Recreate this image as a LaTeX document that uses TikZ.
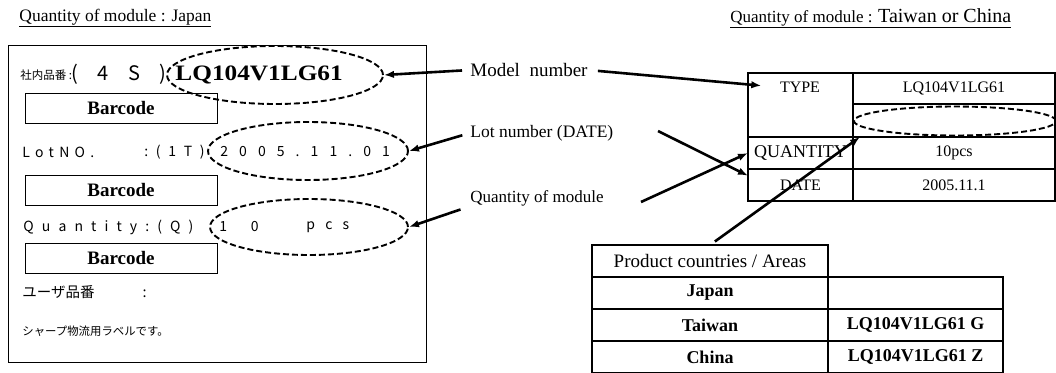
\documentclass[tikz,border=0pt]{standalone}
\usepackage{fontspec}
\setmainfont{Liberation Serif}
\newfontfamily\jpfont{Noto Sans CJK JP}
\usetikzlibrary{shapes.geometric, arrows.meta}
\newcommand{\spacedtxt}[2]{{\addfontfeature{LetterSpace=#1}#2}}
\tikzset{
every picture/.style={line width=0.8pt, >={Latex[length=10pt, width=7.5pt]}},
%%%%%%%%%%  Node styles
txt/.style={inner sep=0pt, anchor=west},
gothic/.style={txt, font=\jpfont\fontsize{14}{16}\selectfont},
bar_box/.style={draw, line width=1pt, minimum width=192pt, minimum height=30pt,
                inner sep=0pt, font=\bfseries\fontsize{19}{21}\selectfont},
dash_ring/.style={ellipse, draw, line width=1.9pt, dash pattern=on 6pt off 3pt,
                  inner sep=0pt},
%%%%%%% table cells: width, height
tbl_cell/.style 2 args={draw, line width=1.5pt, minimum width=#1, minimum height=#2,
                  inner sep=0pt, outer sep=0pt, font=\fontsize{16}{18}\selectfont},
%%%%%%% arrows
pointer/.style={->, line width=2.6pt}
}

\begin{document}
\begin{tikzpicture}[x=1pt, y=-1pt]
\useasboundingbox (0,0) rectangle (1056,372);
%%%% titles
\node[txt, font=\fontsize{17.5}{19}\selectfont] (jptitle) at (19,18) {\underline{Quantity of module : Japan}};
\node[txt] (twtitle) at (730,18) {\underline{\fontsize{17}{19}\selectfont Quantity of module : \fontsize{20}{22}\selectfont Taiwan or China}};

%%%% Japan label
\draw[line width=1pt] (8,45) rectangle (426,362);
\node[txt, font=\jpfont\fontsize{11.5}{13}\selectfont] (naibanlbl) at (20,75) {社内品番 :};
\node[txt, font=\jpfont\fontsize{20}{22}\selectfont] (fourS) at (71,74) {\spacedtxt{75}{( 4 S )}};
\node[txt, font=\bfseries\fontsize{22}{24}\selectfont, xscale=1.15] (modelno) at (175,75) {LQ104V1LG61};
\node[bar_box] (bar1) at (121,108) {Barcode};
\node[gothic] (lotlbl) at (22,152) {\spacedtxt{38}{LotNO.}};
\node[gothic] (lotcode) at (144,152) {\spacedtxt{55}{:(1T)}};
\node[gothic] (lotdate) at (220,152) {\spacedtxt{79}{2005.11.01}};
\node[bar_box] (bar2) at (121,190) {Barcode};
\node[gothic] (qtylbl) at (23,227) {\spacedtxt{58}{Quantity:(Q)}};
\node[gothic] (qtynum) at (219,227) {\spacedtxt{170}{10}};
\node[gothic] (qtyunit) at (306,227) {\spacedtxt{73}{pcs}};
\node[bar_box] (bar3) at (121,258) {Barcode};
\node[txt, font=\jpfont\fontsize{14.5}{16}\selectfont] (userlbl) at (22,292) {ユーザ品番\hspace{48pt}:};
\node[txt, font=\jpfont\fontsize{11.4}{13}\selectfont] (sharpnote) at (22,331) {シャープ物流用ラベルです。};
\node[dash_ring, minimum width=216pt, minimum height=58pt] (modelring) at (275,75) {};
\node[dash_ring, minimum width=200pt, minimum height=58pt] (lotring) at (308,151) {};
\node[dash_ring, minimum width=198pt, minimum height=56pt] (qtyring) at (309,227) {};

%%%% middle labels
\node[txt, font=\fontsize{19}{21}\selectfont] (modeltxt) at (470,70) {Model~ number};
\node[txt, font=\fontsize{17.5}{19}\selectfont] (lottxt) at (470,133) {Lot number (DATE)};
\node[txt, font=\fontsize{17}{19}\selectfont] (qtytxt) at (470,198) {Quantity of module};
\coordinate (lotfrom) at (658,131);
\coordinate (qtyfrom) at (641,202);

%%%% Taiwan / China label
\node[tbl_cell={105pt}{64pt}] (typecell) at (800.5,105) {};
\node[tbl_cell={105pt}{32pt}, font=\fontsize{18}{20}\selectfont] (qtycell) at (800.5,153) {QUANTITY};
\node[tbl_cell={105pt}{32pt}] (datecell) at (800.5,185) {DATE};
\node[tbl_cell={202pt}{31pt}] (typeval) at (954,88.5) {LQ104V1LG61};
\node[tbl_cell={202pt}{33pt}] (sfxcell) at (954,120.5) {};
\node[tbl_cell={202pt}{32pt}] (qtyval) at (954,153) {10pcs};
\node[tbl_cell={202pt}{32pt}] (dateval) at (954,185) {2005.11.1};
\node[font=\fontsize{16}{18}\selectfont] (typetxt) at (800,87) {TYPE};
\node[dash_ring, minimum width=202pt, minimum height=29pt] (sfxring) at (955,121) {};

%%%% product table
\node[tbl_cell={236pt}{32pt}, font=\fontsize{19}{21}\selectfont] (prodhdr) at (710,261) {Product countries / Areas};
\node[tbl_cell={236pt}{32pt}, font=\bfseries\fontsize{18}{20}\selectfont] (japanrow) at (710,293) {Japan};
\node[tbl_cell={236pt}{32pt}, font=\bfseries\fontsize{18}{20}\selectfont] (taiwanrow) at (710,325) {Taiwan};
\node[tbl_cell={236pt}{32pt}, font=\bfseries\fontsize{18}{20}\selectfont] (chinarow) at (710,357) {China};
\node[tbl_cell={175pt}{32pt}] (japanval) at (915.5,293) {};
\node[tbl_cell={175pt}{32pt}, font=\bfseries\fontsize{18}{20}\selectfont] (taiwanval) at (915.5,325) {LQ104V1LG61 G};
\node[tbl_cell={175pt}{32pt}, font=\bfseries\fontsize{18}{20}\selectfont] (chinaval) at (915.5,357) {LQ104V1LG61 Z};

%%%% pointers
\draw[pointer, shorten <=8pt] (modeltxt.west) -- (modelring.east);
\draw[pointer, shorten <=8pt] (lottxt.west) -- (lotring.east);
\draw[pointer, shorten <=10pt] (qtytxt.south west) -- (qtyring.east);
\draw[pointer, shorten <=10pt, shorten >=15pt] (modeltxt.east) -- (typetxt.west);
\draw[pointer] (lotfrom) -- (datecell.170);
\draw[pointer] (qtyfrom) -- (qtycell.west);
\draw[pointer, shorten <=6pt] (prodhdr.north) -- ([xshift=7pt]sfxcell.south west);
\end{tikzpicture}
\end{document}
